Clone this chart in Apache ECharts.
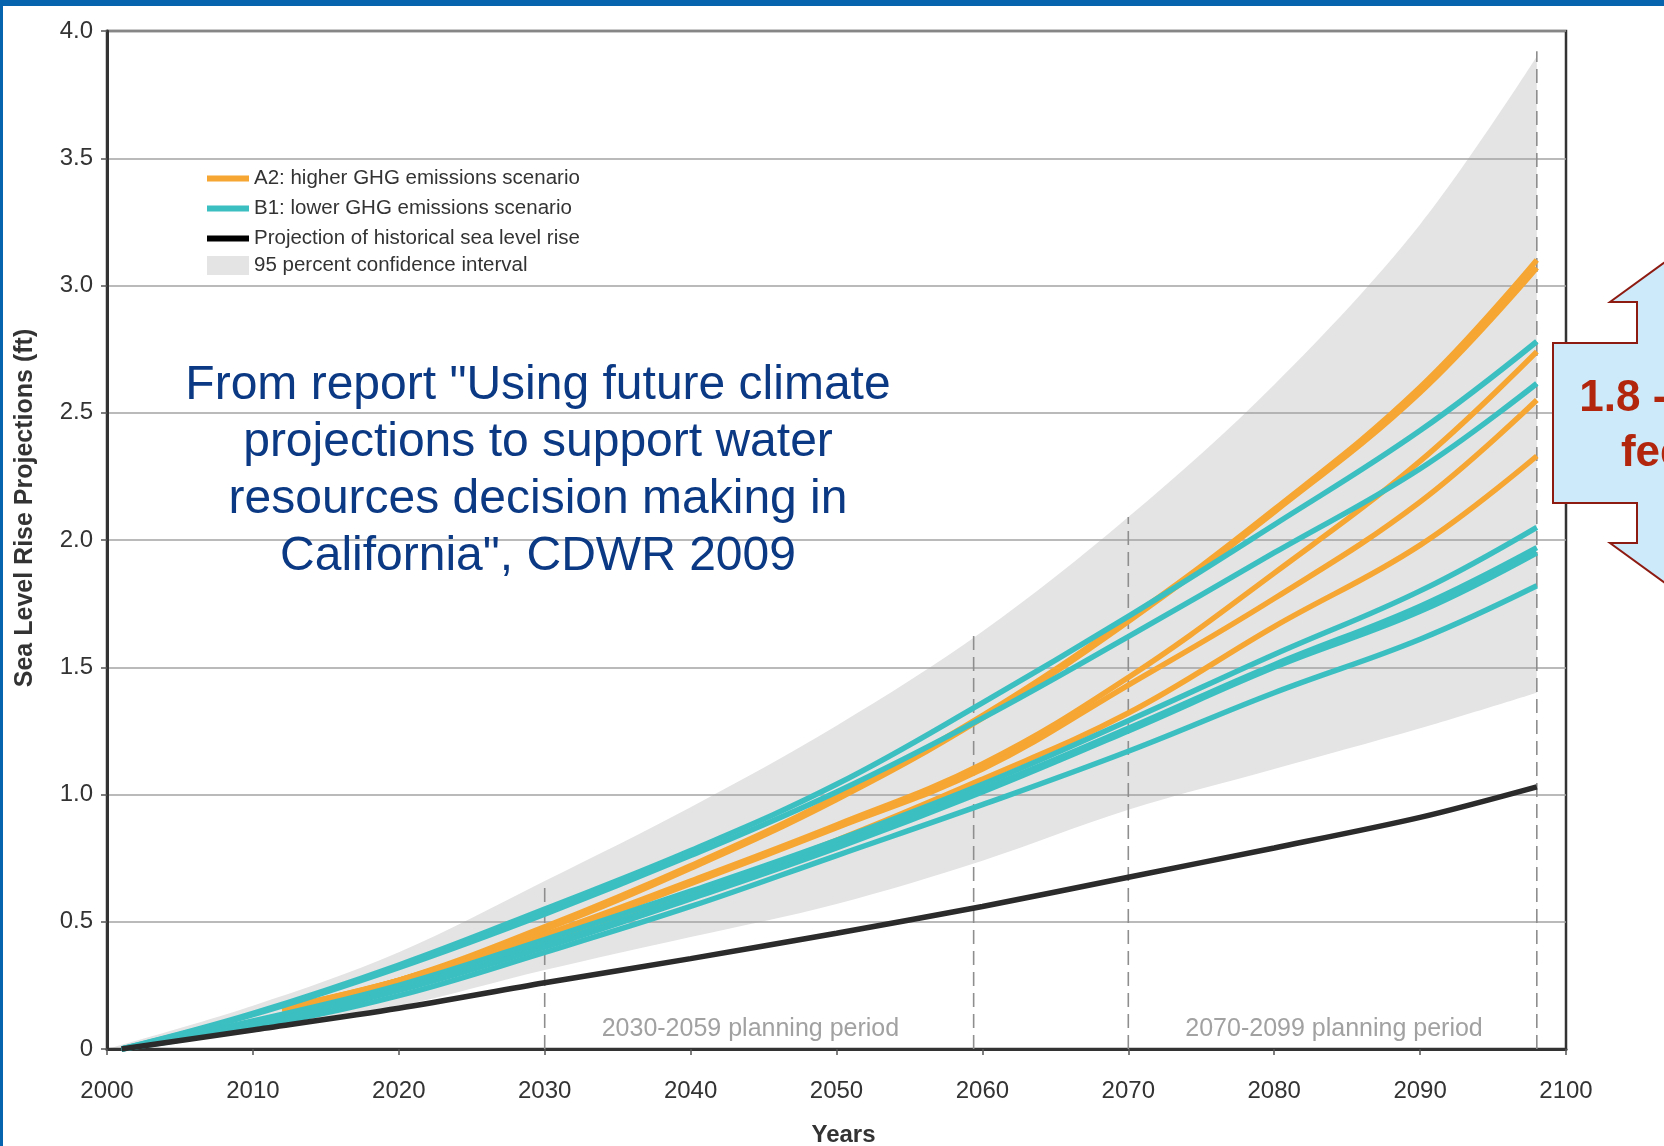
<!DOCTYPE html>
<html>
<head>
<meta charset="utf-8">
<script src="https://cdn.jsdelivr.net/npm/echarts@6/dist/echarts.min.js"></script>
<style>
  html, body { margin: 0; padding: 0; background: #ffffff; }
  #chart { width: 1664px; height: 1146px; }
</style>
</head>
<body>
<div id="chart"></div>
<script>
// Sea level rise projections (ft), CDWR 2009

// B1 runs and the historical-trend projection share these years
const years = [2001, 2010, 2020, 2030, 2040, 2050, 2060, 2070, 2080, 2090, 2098];
// A2 runs are plotted from 2012 onward
const a2Years = [2012, 2020, 2030, 2040, 2050, 2060, 2070, 2080, 2090, 2098];

const a2Run1 = [0.16, 0.27, 0.48, 0.72, 0.99, 1.31, 1.69, 2.12, 2.60, 3.10];
const a2Run2 = [0.16, 0.27, 0.47, 0.71, 0.98, 1.30, 1.68, 2.11, 2.58, 3.07];
const a2Run3 = [0.16, 0.27, 0.45, 0.66, 0.88, 1.12, 1.46, 1.87, 2.31, 2.74];
const a2Run4 = [0.16, 0.27, 0.44, 0.65, 0.87, 1.10, 1.43, 1.77, 2.15, 2.55];
const a2Run5 = [0.15, 0.25, 0.42, 0.61, 0.82, 1.06, 1.32, 1.66, 1.98, 2.33];

const b1Run1 = [0, 0.14, 0.33, 0.55, 0.78, 1.04, 1.36, 1.70, 2.06, 2.43, 2.78];
const b1Run2 = [0, 0.135, 0.32, 0.53, 0.76, 1.01, 1.30, 1.62, 1.95, 2.28, 2.615];
const b1Run3 = [0, 0.11, 0.25, 0.43, 0.62, 0.82, 1.04, 1.29, 1.55, 1.80, 2.05];
const b1Run4 = [0, 0.10, 0.24, 0.41, 0.60, 0.80, 1.02, 1.26, 1.51, 1.74, 1.97];
const b1Run5 = [0, 0.095, 0.23, 0.40, 0.59, 0.79, 1.01, 1.25, 1.50, 1.72, 1.95];
const b1Run6 = [0, 0.085, 0.21, 0.38, 0.56, 0.76, 0.96, 1.17, 1.40, 1.61, 1.82];

const historical = [0, 0.075, 0.16, 0.26, 0.355, 0.455, 0.56, 0.675, 0.79, 0.91, 1.03];

// 95 percent confidence interval
const bandYears = [2000, 2010, 2020, 2030, 2040, 2050, 2060, 2070, 2080, 2090, 2098];
const bandUpper = [0, 0.17, 0.38, 0.66, 0.95, 1.27, 1.64, 2.09, 2.61, 3.24, 3.90];
const bandLower = [0, 0.07, 0.168, 0.31, 0.44, 0.57, 0.74, 0.94, 1.10, 1.26, 1.40];

// planning-period boundaries and how high each dashed marker reaches
const periodYears = [2030, 2059.4, 2070, 2098];
const periodTops = [0.66, 1.63, 2.09, 3.92];
const periodNames = ['2030-2059 planning period', '2070-2099 planning period'];
const periodLabelAt = [[2044.1, 0.08], [2084.1, 0.08]];

const yTickLabels = ['0', '0.5', '1.0', '1.5', '2.0', '2.5', '3.0', '3.5', '4.0'];

const NAME_A2 = 'A2: higher GHG emissions scenario';
const NAME_B1 = 'B1: lower GHG emissions scenario';
const NAME_HIST = 'Projection of historical sea level rise';
const NAME_CI = '95 percent confidence interval';

const ORANGE = '#f6a632';
const TEAL = '#3cbfc1';
const BLACK = '#2b2b2b';
const BAND = '#e4e4e4';
const FONT = '"Liberation Sans", Arial, sans-serif';

function pairs(xs, ys) { return xs.map((x, i) => [x, ys[i]]); }

const series = [];

// confidence band: grey area to the upper bound, white area below the lower bound,
// both kept beneath the grid lines
series.push({
  type: 'line', name: NAME_CI, smooth: 0.35, symbol: 'none', silent: true, z: -2,
  data: pairs(bandYears, bandUpper),
  lineStyle: { width: 0, opacity: 0 },
  itemStyle: { color: BAND },
  areaStyle: { color: BAND, opacity: 1 }
});
series.push({
  type: 'line', name: 'ci-lower', smooth: 0.35, symbol: 'none', silent: true, z: -1,
  data: pairs(bandYears, bandLower),
  lineStyle: { width: 0, opacity: 0 },
  areaStyle: { color: '#ffffff', opacity: 1 }
});

// dashed planning-period markers
periodYears.forEach((yr, i) => {
  series.push({
    type: 'line', name: 'period-' + i, symbol: 'none', silent: true, z: 2,
    data: [[yr, 0], [yr, periodTops[i]]],
    lineStyle: { color: '#8e8e8e', width: 1.6, type: [14, 7] }
  });
});

// A2 runs
[a2Run1, a2Run2, a2Run3, a2Run4, a2Run5].forEach(run => {
  series.push({
    type: 'line', name: NAME_A2, smooth: 0.4, symbol: 'none', z: 3,
    data: pairs(a2Years, run),
    itemStyle: { color: ORANGE },
    lineStyle: { color: ORANGE, width: 5.5 }
  });
});

// B1 runs
[b1Run1, b1Run2, b1Run3, b1Run4, b1Run5, b1Run6].forEach(run => {
  series.push({
    type: 'line', name: NAME_B1, smooth: 0.4, symbol: 'none', z: 4,
    data: pairs(years, run),
    itemStyle: { color: TEAL },
    lineStyle: { color: TEAL, width: 5.5 }
  });
});

// historical trend
series.push({
  type: 'line', name: NAME_HIST, smooth: 0.3, symbol: 'none', z: 5,
  data: pairs(years, historical),
  itemStyle: { color: BLACK },
  lineStyle: { color: BLACK, width: 5.5 }
});

// planning-period captions
series.push({
  type: 'scatter', name: 'period-labels', symbolSize: 0, silent: true, z: 6,
  data: periodNames.map((n, i) => ({ name: n, value: periodLabelAt[i] })),
  label: {
    show: true, position: 'inside', formatter: p => p.name,
    fontFamily: FONT, fontSize: 25, color: '#8a8a8a'
  }
});

const chart = echarts.init(document.getElementById('chart'), null, { renderer: 'canvas' });

chart.setOption({
  animation: false,
  backgroundColor: '#ffffff',
  grid: {
    left: 107, right: 98, top: 31, bottom: 97,
    outerBoundsMode: 'none', containLabel: false,
    show: true, borderColor: '#333333', borderWidth: 2.5, backgroundColor: 'transparent'
  },
  xAxis: {
    type: 'value', min: 2000, max: 2100, interval: 10,
    name: 'Years', nameLocation: 'middle', nameGap: 74,
    nameTextStyle: {
      fontFamily: FONT, fontSize: 24, fontWeight: 'bold', color: '#333333',
      padding: [0, 0, 0, 14]
    },
    axisLine: { show: true, lineStyle: { color: '#333333', width: 3 } },
    axisTick: { show: true, length: 6, lineStyle: { color: '#555555', width: 1.5 } },
    axisLabel: {
      margin: 30, fontFamily: FONT, fontSize: 24, color: '#333333',
      formatter: v => String(v)
    },
    splitLine: { show: false }
  },
  yAxis: {
    type: 'value', min: 0, max: 4, interval: 0.5,
    axisLine: { show: true, lineStyle: { color: '#333333', width: 3 } },
    axisTick: { show: true, length: 6, lineStyle: { color: '#555555', width: 1.5 } },
    axisLabel: {
      margin: 14, fontFamily: FONT, fontSize: 24, color: '#333333',
      formatter: (v, i) => yTickLabels[i]
    },
    splitLine: { show: true, lineStyle: { color: '#a3a3a3', width: 1.5 } }
  },
  legend: [
    {
      orient: 'vertical', left: 207, top: 168, padding: 0, itemGap: 9,
      itemWidth: 42, itemHeight: 6, icon: 'rect', selectedMode: false,
      textStyle: { fontFamily: FONT, fontSize: 20.5, color: '#333333', lineHeight: 20 },
      data: [
        { name: NAME_A2, itemStyle: { color: ORANGE } },
        { name: NAME_B1, itemStyle: { color: TEAL } },
        { name: NAME_HIST, itemStyle: { color: '#000000' } }
      ]
    },
    {
      orient: 'vertical', left: 207, top: 255, padding: 0,
      itemWidth: 42, itemHeight: 19, icon: 'rect', selectedMode: false,
      textStyle: { fontFamily: FONT, fontSize: 20.5, color: '#333333' },
      data: [{ name: NAME_CI, itemStyle: { color: BAND } }]
    }
  ],
  graphic: [
    // slide frame
    { type: 'rect', shape: { x: 0, y: 0, width: 1664, height: 6 }, style: { fill: '#0564ad' }, z: 100 },
    { type: 'rect', shape: { x: 0, y: 0, width: 3, height: 1146 }, style: { fill: '#0564ad' }, z: 100 },
    // vertical axis title
    {
      type: 'text', x: 25, y: 508, rotation: Math.PI / 2, z: 100,
      style: {
        text: 'Sea Level Rise Projections (ft)', align: 'center', verticalAlign: 'middle',
        font: 'bold 25px ' + FONT, fill: '#333333'
      }
    },
    // source note
    {
      type: 'text', x: 538, y: 357, z: 100,
      style: {
        text: 'From report "Using future climate\nprojections to support water\nresources decision making in\nCalifornia", CDWR 2009',
        align: 'center', verticalAlign: 'top',
        font: '48px ' + FONT, fill: '#0b3983', lineHeight: 57
      }
    },
    // up-down arrow callout
    {
      type: 'polygon', z: 100,
      shape: {
        points: [[1553, 343], [1637, 343], [1637, 302], [1610, 302], [1720, 222],
                 [1720, 623], [1610, 543], [1637, 543], [1637, 503], [1553, 503]]
      },
      style: { fill: '#cdeafb', stroke: '#8e1b12', lineWidth: 2 }
    },
    {
      type: 'text', x: 1660, y: 371, z: 101,
      style: {
        text: '1.8 - 3.1\nfeet', align: 'center', verticalAlign: 'top',
        font: 'bold 44px ' + FONT, fill: '#b3260e', lineHeight: 55
      }
    }
  ],
  series: series
});
</script>
</body>
</html>
